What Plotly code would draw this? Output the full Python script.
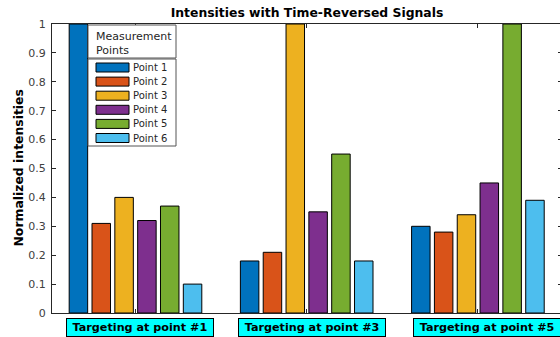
import plotly.graph_objects as go

# ---- data ----
categories = ["Targeting at point #1", "Targeting at point #3", "Targeting at point #5"]
category_pos = [1, 2, 3]
series_names = ["Point 1", "Point 2", "Point 3", "Point 4", "Point 5", "Point 6"]
point1 = [1.00, 0.18, 0.30]
point2 = [0.31, 0.21, 0.28]
point3 = [0.40, 1.00, 0.34]
point4 = [0.32, 0.35, 0.45]
point5 = [0.37, 0.55, 1.00]
point6 = [0.10, 0.18, 0.39]
series_values = [point1, point2, point3, point4, point5, point6]
colors = ["#0072BD", "#D95319", "#EDB120", "#7E2F8E", "#77AC30", "#4DBEEE"]
y_tick_vals = [0, 0.1, 0.2, 0.3, 0.4, 0.5, 0.6, 0.7, 0.8, 0.9, 1]
y_tick_text = ["0", "0.1", "0.2", "0.3", "0.4", "0.5", "0.6", "0.7", "0.8", "0.9", "1"]
title_text = "Intensities with Time-Reversed Signals"
y_title = "Normalized intensities"
legend_title = "Measurement<br>Points"

# ---- layout constants ----
# the figure is a little wider than the window: the right axis is cut off as in the reference
W, H = 562, 337
ML, MR, MT, MB = 52, 0, 24, 24
PW, PH = W - ML - MR, H - MT - MB
FONT = "DejaVu Sans"
AX = "#262626"
label_xshifts = [4.5, 5, 9]


def px2x(px):
    return (px - ML) / PW


def px2y(py):
    return (H - MB - py) / PH


fig = go.Figure()
for name, vals, col in zip(series_names, series_values, colors):
    fig.add_trace(go.Bar(
        x=category_pos, y=vals, name=name,
        marker=dict(color=col, line=dict(color="#000000", width=1)),
        showlegend=False,
    ))

shapes = []
annotations = []

# category label boxes
for pos, lab, xs in zip(category_pos, categories, label_xshifts):
    annotations.append(dict(
        x=pos, y=0, xref="x", yref="paper", xanchor="center", yanchor="top",
        xshift=xs, yshift=-5, text="<b>%s</b>" % lab, showarrow=False,
        font=dict(family=FONT, size=11.2, color="#000000"),
        bgcolor="#00FFFF", bordercolor="#000000", borderwidth=1, borderpad=1,
        width=144, height=15,
    ))

# y axis title
annotations.append(dict(
    x=px2x(18), y=0.5, xref="paper", yref="paper", xanchor="center", yanchor="middle",
    text="<b>%s</b>" % y_title, textangle=-90, showarrow=False,
    font=dict(family=FONT, size=12.4, color="#000000"),
))

# custom legend (MATLAB style)
LEG_X0, LEG_X1 = 88, 176
shapes.append(dict(type="rect", xref="paper", yref="paper",
                   x0=px2x(LEG_X0), x1=px2x(LEG_X1), y0=px2y(58), y1=px2y(25),
                   fillcolor="white", line=dict(color="#555555", width=1), layer="above"))
shapes.append(dict(type="rect", xref="paper", yref="paper",
                   x0=px2x(LEG_X0), x1=px2x(LEG_X1), y0=px2y(146), y1=px2y(59),
                   fillcolor="white", line=dict(color="#555555", width=1), layer="above"))
annotations.append(dict(
    x=px2x(94), y=px2y(43), xref="paper", yref="paper", xanchor="left", yanchor="middle",
    align="left", text=legend_title, showarrow=False,
    font=dict(family=FONT, size=11, color="#262626"),
))
for i, (name, col) in enumerate(zip(series_names, colors)):
    cy = 67.5 + 14.1 * i
    shapes.append(dict(type="rect", xref="paper", yref="paper",
                       x0=px2x(96), x1=px2x(129), y0=px2y(cy + 4.5), y1=px2y(cy - 4.5),
                       fillcolor=col, line=dict(color="#000000", width=1), layer="above"))
    annotations.append(dict(
        x=px2x(131), y=px2y(cy), xref="paper", yref="paper", xanchor="left", yanchor="middle",
        text=name, showarrow=False, font=dict(family=FONT, size=10, color="#262626"),
    ))

fig.update_layout(
    width=W, height=H,
    margin=dict(l=ML, r=MR, t=MT, b=MB, pad=0, autoexpand=False),
    paper_bgcolor="white", plot_bgcolor="white",
    barmode="group", bargap=0.2, bargroupgap=0.19,
    font=dict(family=FONT, size=11, color=AX),
    title=dict(text="<b>%s</b>" % title_text, x=0.5, xref="paper", xanchor="center",
               y=1 - 13 / H, yanchor="middle", font=dict(family=FONT, size=12.4, color="#000000")),
    xaxis=dict(range=[0.5123, 0.5123 + PW / 171.2], tickvals=category_pos, showticklabels=False,
               ticks="inside", ticklen=4, tickcolor=AX, showline=True, linecolor=AX,
               linewidth=1, mirror="ticks", showgrid=False, zeroline=False, automargin=False),
    yaxis=dict(range=[0, 1], tickvals=y_tick_vals, ticktext=y_tick_text,
               ticks="inside", ticklen=4, tickcolor=AX, showline=True, linecolor=AX,
               linewidth=1, mirror="ticks", showgrid=False, zeroline=False, automargin=False,
               ticklabelstandoff=3,
               tickfont=dict(family=FONT, size=11, color="#404040")),
    shapes=shapes, annotations=annotations,
)

fig.write_html("out.html", config={"displayModeBar": False},
               post_script="document.body.style.margin='0';document.body.style.overflow='hidden';")
